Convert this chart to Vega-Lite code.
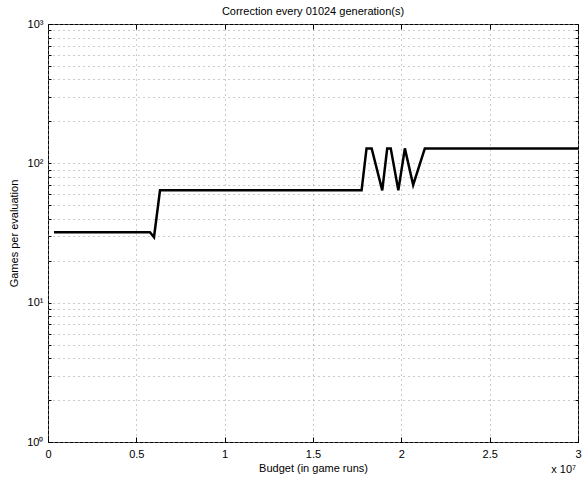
{
  "$schema": "https://vega.github.io/schema/vega-lite/v6.json",
  "width": 530,
  "height": 418,
  "autosize": {"type": "none"},
  "padding": {"left": 48, "top": 24, "right": 10, "bottom": 38},
  "background": "white",
  "config": {
    "font": "Liberation Sans",
    "view": {"stroke": "black", "strokeWidth": 1},
    "axis": {
      "labelFont": "Liberation Sans",
      "titleFont": "Liberation Sans",
      "labelFontSize": 11,
      "titleFontSize": 11,
      "titleFontWeight": "normal",
      "labelColor": "black",
      "titleColor": "black",
      "domain": false,
      "ticks": true,
      "tickColor": "black",
      "tickWidth": 1,
      "gridColor": "#999999",
      "gridDash": [1, 4],
      "gridWidth": 1
    }
  },
  "title": {
    "text": "Correction every 01024 generation(s)",
    "font": "Liberation Sans",
    "fontSize": 11,
    "fontWeight": "normal",
    "color": "black",
    "offset": 1
  },
  "resolve": {"axis": {"x": "independent", "y": "independent"}},
  "layer": [
    {
      "data": {
        "values": [
          {"budget": 340000, "games": 32},
          {"budget": 5770000, "games": 32},
          {"budget": 6000000, "games": 29.5},
          {"budget": 6340000, "games": 64},
          {"budget": 17750000, "games": 64},
          {"budget": 18030000, "games": 128},
          {"budget": 18320000, "games": 128},
          {"budget": 18920000, "games": 64},
          {"budget": 19200000, "games": 128},
          {"budget": 19400000, "games": 128},
          {"budget": 19830000, "games": 64},
          {"budget": 20200000, "games": 128},
          {"budget": 20670000, "games": 70},
          {"budget": 21330000, "games": 128},
          {"budget": 30000000, "games": 128}
        ]
      },
      "mark": {"type": "line", "color": "black", "strokeWidth": 2.5, "strokeJoin": "miter", "clip": true},
      "encoding": {
        "x": {
          "field": "budget",
          "type": "quantitative",
          "scale": {"domain": [0, 30000000], "nice": false, "zero": false},
          "axis": {
            "title": "Budget (in game runs)",
            "values": [0, 5000000, 10000000, 15000000, 20000000, 25000000, 30000000],
            "labelExpr": "format(datum.value / 10000000, '')",
            "tickSize": -5,
            "labelPadding": 11,
            "titlePadding": 3,
            "labelFlush": false
          }
        },
        "y": {
          "field": "games",
          "type": "quantitative",
          "scale": {"type": "log", "domain": [1, 1000], "nice": false},
          "axis": {
            "title": "Games per evaluation",
            "values": [1, 2, 3, 4, 5, 6, 7, 8, 9, 10, 20, 30, 40, 50, 60, 70, 80, 90, 100, 200, 300, 400, 500, 600, 700, 800, 900, 1000],
            "labelExpr": "datum.value == 1 ? '10⁰' : datum.value == 10 ? '10¹' : datum.value == 100 ? '10²' : datum.value == 1000 ? '10³' : ''",
            "tickSize": -3,
            "labelPadding": 8,
            "titlePadding": 7,
            "labelOverlap": false,
            "labelFlush": false
          }
        },
        "order": {"field": "budget", "type": "quantitative"}
      }
    },
    {
      "data": {"values": [{"budget": 30000000, "games": 1, "label": "x 10⁷"}]},
      "mark": {"type": "text", "fontSize": 11, "align": "right", "baseline": "top", "dy": 22, "dx": -2, "color": "black", "font": "Liberation Sans"},
      "encoding": {
        "x": {
          "field": "budget",
          "type": "quantitative",
          "axis": {
            "orient": "top",
            "title": null,
            "labels": false,
            "grid": false,
            "values": [0, 5000000, 10000000, 15000000, 20000000, 25000000, 30000000],
            "tickSize": -5
          }
        },
        "y": {
          "field": "games",
          "type": "quantitative",
          "axis": {
            "orient": "right",
            "title": null,
            "labels": false,
            "grid": false,
            "values": [1, 2, 3, 4, 5, 6, 7, 8, 9, 10, 20, 30, 40, 50, 60, 70, 80, 90, 100, 200, 300, 400, 500, 600, 700, 800, 900, 1000],
            "tickSize": -3
          }
        },
        "text": {"field": "label"}
      }
    }
  ]
}
